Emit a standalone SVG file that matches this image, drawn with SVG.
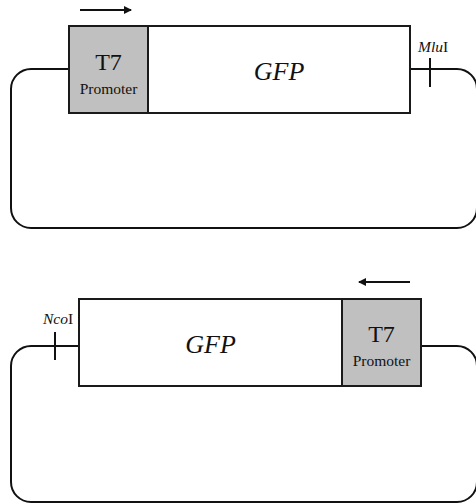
<svg xmlns="http://www.w3.org/2000/svg" width="476" height="503" viewBox="0 0 476 503">
<style>
.ln{fill:none;stroke:#111;stroke-width:2}
.box{stroke:#1a1a1a;stroke-width:2}
.prom{fill:#c0c0c0}
.gene{fill:#fff}
text{font-family:'Liberation Serif','Times New Roman','DejaVu Serif',serif;fill:#111}
.t7{font-size:24px;text-anchor:middle}
.pr{font-size:15.5px;text-anchor:middle}
.gfp{font-size:26px;font-style:italic;text-anchor:middle}
.site{font-size:15.5px}
</style>
<defs>
<marker id="ah" viewBox="0 0 8 8" refX="7" refY="4" markerWidth="4" markerHeight="4" orient="auto" markerUnits="strokeWidth">
<path d="M0,0 L8,4 L0,8 z" fill="#111"/>
</marker>
</defs>
<g id="connectors">
<path class="ln" d="M69,69 H31 A20,20 0 0 0 11,89 V208 A20,20 0 0 0 31,228 H457 A20,20 0 0 0 477,208 V89 A20,20 0 0 0 457,69 H410"/>
<line class="ln" x1="430" y1="58" x2="430" y2="87"/>
<line class="ln" x1="80" y1="10" x2="131" y2="10" marker-end="url(#ah)"/>
<path class="ln" d="M79,346 H31 A20,20 0 0 0 11,366 V482 A20,20 0 0 0 31,502 H457 A20,20 0 0 0 477,482 V366 A20,20 0 0 0 457,346 H421"/>
<line class="ln" x1="55" y1="332" x2="55" y2="360"/>
<line class="ln" x1="410" y1="282" x2="359" y2="282" marker-end="url(#ah)"/>
</g>
<g id="top-promoter">
<rect class="box prom" x="69" y="26" width="79" height="87"/>
<text class="t7" x="108.5" y="70">T7</text>
<text class="pr" x="108.5" y="94">Promoter</text>
</g>
<g id="top-gfp">
<rect class="box gene" x="148" y="26" width="262" height="87"/>
<text class="gfp" x="279" y="80">GFP</text>
</g>
<g id="mlui">
<text class="site" x="418" y="52"><tspan font-style="italic">Mlu</tspan>I</text>
</g>
<g id="bottom-gfp">
<rect class="box gene" x="79" y="299" width="263" height="87"/>
<text class="gfp" x="210.5" y="353">GFP</text>
</g>
<g id="bottom-promoter">
<rect class="box prom" x="342" y="299" width="79" height="87"/>
<text class="t7" x="381.5" y="342">T7</text>
<text class="pr" x="381.5" y="366">Promoter</text>
</g>
<g id="ncoi">
<text class="site" x="43" y="324"><tspan font-style="italic">Nco</tspan>I</text>
</g>
</svg>
